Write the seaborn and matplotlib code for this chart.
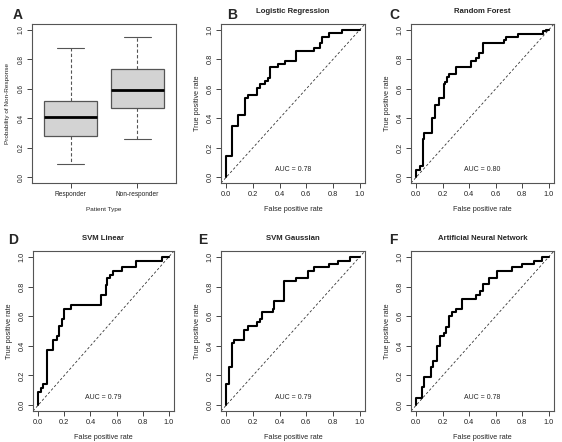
import matplotlib
matplotlib.use("Agg")
import matplotlib.pyplot as plt
import seaborn as sns
import pandas as pd

##---------------------------------- 1. Datos ----------------------------------
## Panel A: resumen de las cajas
patient_types = ["Responder", "Non-responder"]
whisker_low = [0.089, 0.257]
q1 = [0.28, 0.47]
medians = [0.405, 0.59]
q3 = [0.52, 0.736]
whisker_high = [0.877, 0.95]

## Curvas ROC: (fpr, tpr) en cada subida de la escalera
lr_fpr = [0, 0, 0.045, 0.09, 0.14, 0.16, 0.23, 0.25, 0.29, 0.31, 0.33, 0.39, 0.44, 0.52, 0.66, 0.70, 0.72, 0.77, 0.87, 1.0]
lr_tpr = [0, 0.14, 0.35, 0.42, 0.535, 0.56, 0.605, 0.63, 0.65, 0.67, 0.745, 0.77, 0.79, 0.86, 0.88, 0.91, 0.955, 0.98, 1.0, 1.0]

rf_fpr = [0, 0, 0.025, 0.047, 0.056, 0.12, 0.14, 0.17, 0.21, 0.22, 0.23, 0.25, 0.30, 0.41, 0.45, 0.47, 0.50, 0.66, 0.68, 0.77, 0.96, 0.98, 1.0]
rf_tpr = [0, 0.05, 0.073, 0.26, 0.30, 0.40, 0.49, 0.535, 0.63, 0.645, 0.68, 0.70, 0.745, 0.79, 0.81, 0.84, 0.91, 0.93, 0.955, 0.975, 0.99, 1.0, 1.0]

svml_fpr = [0, 0, 0.02, 0.038, 0.068, 0.11, 0.14, 0.16, 0.18, 0.20, 0.25, 0.48, 0.52, 0.53, 0.55, 0.57, 0.64, 0.75, 0.95, 1.0]
svml_tpr = [0, 0.09, 0.116, 0.145, 0.375, 0.44, 0.465, 0.535, 0.58, 0.65, 0.673, 0.74, 0.81, 0.86, 0.88, 0.907, 0.93, 0.975, 1.0, 1.0]

svmg_fpr = [0, 0, 0.023, 0.043, 0.058, 0.136, 0.16, 0.23, 0.25, 0.27, 0.35, 0.36, 0.435, 0.52, 0.61, 0.66, 0.77, 0.84, 0.93, 1.0]
svmg_tpr = [0, 0.143, 0.258, 0.42, 0.44, 0.51, 0.536, 0.563, 0.58, 0.627, 0.65, 0.70, 0.837, 0.86, 0.905, 0.93, 0.95, 0.973, 1.0, 1.0]

ann_fpr = [0, 0, 0.042, 0.06, 0.108, 0.128, 0.157, 0.177, 0.206, 0.228, 0.248, 0.27, 0.30, 0.344, 0.45, 0.48, 0.50, 0.55, 0.61, 0.72, 0.80, 0.89, 0.95, 1.0]
ann_tpr = [0, 0.05, 0.12, 0.188, 0.258, 0.30, 0.396, 0.464, 0.484, 0.53, 0.60, 0.63, 0.65, 0.717, 0.74, 0.77, 0.816, 0.86, 0.905, 0.93, 0.95, 0.975, 1.0, 1.0]

roc_titles = ["Logistic Regression", "Random Forest", "SVM Linear", "SVM Gaussian", "Artificial Neural Network"]
roc_auc = [0.78, 0.80, 0.79, 0.79, 0.78]
roc_letters = ["B", "C", "D", "E", "F"]

##---------------------------------- 2. Estilo ----------------------------------
sns.set_theme(style="ticks")
plt.rcParams["font.family"] = ["Liberation Sans", "DejaVu Sans"]
plt.rcParams["axes.edgecolor"] = "#555555"
plt.rcParams["axes.linewidth"] = 0.8
plt.rcParams["xtick.color"] = "#444444"
plt.rcParams["ytick.color"] = "#444444"
plt.rcParams["xtick.labelcolor"] = "#222222"
plt.rcParams["ytick.labelcolor"] = "#222222"
plt.rcParams["xtick.major.size"] = 3.5
plt.rcParams["ytick.major.size"] = 3.5
plt.rcParams["xtick.major.width"] = 0.7
plt.rcParams["ytick.major.width"] = 0.7

W, H = 562, 442
fig = plt.figure(figsize=(W / 100, H / 100), dpi=100)

def px_axes(left, top, width, height):
    return fig.add_axes([left / W, 1 - (top + height) / H, width / W, height / H])

def style_axes(ax, size):
    ax.tick_params(labelsize=size, pad=2)
    for lab in ax.get_yticklabels():
        lab.set_rotation(90)
        lab.set_va("center")

ticks = [0.0, 0.2, 0.4, 0.6, 0.8, 1.0]
tick_labels = [f"{t:.1f}" for t in ticks]

##---------------------------------- 3. Panel A ----------------------------------
ax_a = px_axes(32, 24, 144, 159)
stats = []
for i, name in enumerate(patient_types):
    stats.append({"label": name, "whislo": whisker_low[i], "q1": q1[i], "med": medians[i],
                  "q3": q3[i], "whishi": whisker_high[i], "fliers": []})
ax_a.bxp(stats, positions=[1, 2], widths=0.8, showfliers=False, patch_artist=True,
         boxprops=dict(facecolor="#d3d3d3", edgecolor="#555555", linewidth=0.9),
         medianprops=dict(color="black", linewidth=2.0),
         whiskerprops=dict(color="#555555", linewidth=0.8, linestyle=(0, (3, 2))),
         capprops=dict(color="#555555", linewidth=0.8), capwidths=0.4)
ax_a.set_xlim(0.42, 2.58)
ax_a.set_ylim(-0.04, 1.04)
ax_a.set_yticks(ticks)
ax_a.set_yticklabels(tick_labels)
ax_a.set_xticks([1, 2])
ax_a.set_xticklabels(patient_types)
ax_a.set_xlabel("Patient Type", fontsize=4.6, labelpad=7)
ax_a.set_ylabel("Probability of Non-Response", fontsize=4.6, labelpad=5)
style_axes(ax_a, 4.7)
fig.text(13 / W, 1 - 15 / H, "A", fontsize=10, fontweight="bold", ha="left", va="center")

##---------------------------------- 4. Paneles ROC ----------------------------------
roc_data = [(lr_fpr, lr_tpr), (rf_fpr, rf_tpr), (svml_fpr, svml_tpr), (svmg_fpr, svmg_tpr), (ann_fpr, ann_tpr)]
boxes = [(221, 24, 144, 159), (411, 24, 143, 159), (33, 251, 141, 160), (221, 251, 144, 160), (411, 251, 143, 160)]
letter_pos = [(227, 15), (389, 15), (8, 240), (198, 240), (389, 240)]

for i, (fpr, tpr) in enumerate(roc_data):
    ax = px_axes(*boxes[i])
    df = pd.DataFrame({"fpr": fpr, "tpr": tpr})
    ax.axline((0, 0), slope=1, color="#333333", linewidth=0.6, linestyle=(0, (3, 2.5)))
    sns.lineplot(data=df, x="fpr", y="tpr", ax=ax, estimator=None, sort=False,
                 drawstyle="steps-post", color="black", linewidth=1.5)
    ax.set_xlim(-0.04, 1.04)
    ax.set_ylim(-0.04, 1.04)
    ax.set_xticks(ticks)
    ax.set_xticklabels(tick_labels)
    ax.set_yticks(ticks)
    ax.set_yticklabels(tick_labels)
    ax.set_xlabel("False positive rate", fontsize=5.2, labelpad=6)
    ax.set_ylabel("True positive rate", fontsize=5.2, labelpad=4)
    ax.set_title(roc_titles[i], fontsize=5.6, fontweight="bold", pad=8)
    ax.text(0.5, 0.05, f"AUC = {roc_auc[i]:.2f}", fontsize=5.0, ha="center", va="center")
    style_axes(ax, 5.3)
    lx, ly = letter_pos[i]
    fig.text(lx / W, 1 - ly / H, roc_letters[i], fontsize=10, fontweight="bold", ha="left", va="center")

fig.savefig("out.png", dpi=100)
